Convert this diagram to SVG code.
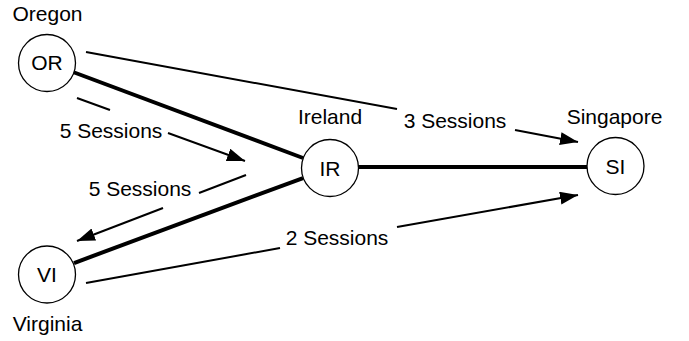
<svg xmlns="http://www.w3.org/2000/svg" width="689" height="341" viewBox="0 0 689 341">
<style>
  text { font-family: "Liberation Sans", Arial, Helvetica, sans-serif; font-size: 21px; fill: #000; text-anchor: middle; }
  .node circle { fill: #fff; stroke: #000; stroke-width: 1.3; }
  .thick { stroke: #000; stroke-width: 4; fill: none; }
  .thin { stroke: #000; stroke-width: 2; fill: none; }
  .arr { marker-end: url(#ah); }
</style>
<defs>
  <marker id="ah" markerUnits="userSpaceOnUse" markerWidth="20" markerHeight="14" refX="18" refY="6.5" orient="auto">
    <path d="M0,0 L18,6.5 L0,13 Z" fill="#000"/>
  </marker>
</defs>
<rect width="689" height="341" fill="#fff"/>
<g id="connectors">
  <line class="thick" x1="73" y1="72" x2="303" y2="158"/>
  <line class="thick" x1="74" y1="263" x2="303" y2="178"/>
  <line class="thick" x1="358" y1="167" x2="587" y2="167"/>
  <line class="thin" x1="86" y1="52" x2="397" y2="109"/>
  <line class="thin arr" x1="515" y1="130" x2="578" y2="142"/>
  <text x="455" y="128">3 Sessions</text>
  <line class="thin" x1="77" y1="98" x2="110" y2="110"/>
  <line class="thin arr" x1="168" y1="133" x2="245" y2="161"/>
  <text x="111" y="138">5 Sessions</text>
  <line class="thin" x1="246" y1="175" x2="199" y2="193"/>
  <line class="thin arr" x1="163" y1="208" x2="77" y2="241"/>
  <text x="140" y="196">5 Sessions</text>
  <line class="thin" x1="86" y1="283" x2="280" y2="248"/>
  <line class="thin arr" x1="397" y1="227" x2="578" y2="195"/>
  <text x="337" y="245">2 Sessions</text>
</g>
<g id="OR" class="node">
  <circle cx="47" cy="63" r="28.5"/>
  <text x="47" y="70">OR</text>
  <text x="47.5" y="21">Oregon</text>
</g>
<g id="VI" class="node">
  <circle cx="47" cy="274.5" r="28.5"/>
  <text x="47" y="282">VI</text>
  <text x="47.5" y="331">Virginia</text>
</g>
<g id="IR" class="node">
  <circle cx="330" cy="168" r="28.5"/>
  <text x="330" y="175.5">IR</text>
  <text x="330" y="124">Ireland</text>
</g>
<g id="SI" class="node">
  <circle cx="615.5" cy="166" r="28.5"/>
  <text x="615.5" y="173.5">SI</text>
  <text x="614.5" y="124">Singapore</text>
</g>
</svg>
